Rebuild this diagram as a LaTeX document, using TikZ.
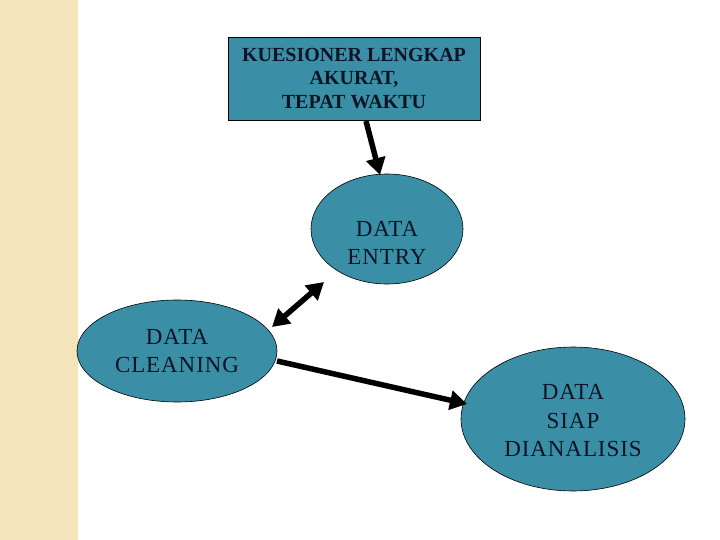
\documentclass[tikz,border=0pt]{standalone}
\usepackage{fontspec}
\setmainfont{Liberation Serif}
\usetikzlibrary{arrows.meta,shapes.geometric}
\definecolor{teal1}{HTML}{3A8FA6}
\definecolor{strip}{HTML}{F4E4BC}
\definecolor{ink}{HTML}{0E1426}
\begin{document}
\begin{tikzpicture}[x=1pt,y=-1pt,
  blob/.style={ellipse,draw=black,line width=0.6pt,fill=teal1,inner sep=0pt},
  txt/.style={align=center,text=ink,inner sep=0pt,font=\fontsize{23}{28.5}\selectfont\addfontfeatures{LetterSpace=4}},
  conn/.style={line width=5.5pt,-{Triangle[length=17pt,width=19pt]}},
  dconn/.style={line width=5.5pt,{Triangle[length=17pt,width=19pt]}-{Triangle[length=17pt,width=19pt]}}]
\useasboundingbox (0,0) rectangle (720,540);
\fill[strip] (0,0) rectangle (78,540);
\node[draw=black,line width=0.6pt,fill=teal1,minimum width=252pt,minimum height=83pt,align=center,text=ink,font=\bfseries\fontsize{20}{23.5}\selectfont,inner sep=0pt] (box) at (354,78.5) {KUESIONER LENGKAP\\AKURAT,\\TEPAT WAKTU};
\node[blob,minimum width=152pt,minimum height=110pt] (entry) at (387,229) {};
\node[txt] (entryt) at ([yshift=-14pt]entry.center) {DATA\\ENTRY};
\node[blob,minimum width=200pt,minimum height=102pt] (clean) at (177,351) {};
\node[txt] (cleant) at (clean.center) {DATA\\CLEANING};
\node[blob,minimum width=224pt,minimum height=144pt] (siap) at (573,419) {};
\node[txt] (siapt) at ([yshift=-2pt]siap.center) {DATA\\SIAP\\DIANALISIS};
\coordinate (a1) at (366,121);
\coordinate (a2) at (380,175);
\draw[conn] (a1) -- (a2);
\coordinate (b1) at (272,327);
\coordinate (b2) at (324,282);
\draw[dconn] (b1) -- (b2);
\coordinate (c1) at (277,361);
\coordinate (c2) at (467,404);
\draw[conn] (c1) -- (c2);
\end{tikzpicture}
\end{document}
